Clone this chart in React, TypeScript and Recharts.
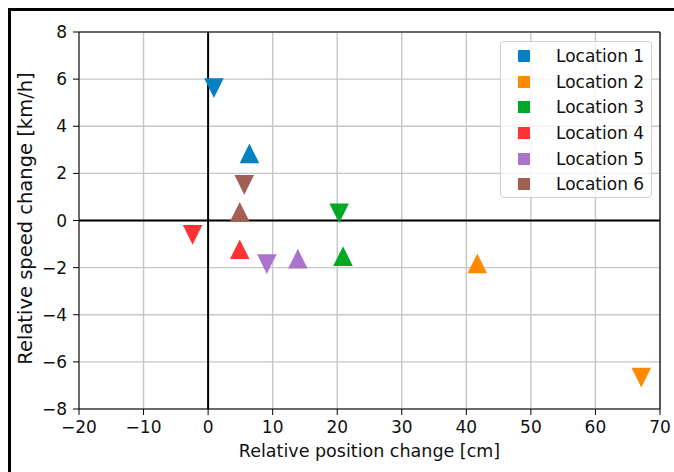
import {
  CartesianGrid,
  Label,
  Legend,
  ReferenceLine,
  Scatter,
  ScatterChart,
  XAxis,
  YAxis,
} from 'recharts';

const LOCATIONS = ['Location 1', 'Location 2', 'Location 3', 'Location 4', 'Location 5', 'Location 6'];
const COLORS = ['#0580c4', '#ff8a00', '#00a826', '#ff3333', '#aa73cc', '#a35f52'];

// ▲ markers
const UP_X = [6.4, 41.7, 20.9, 4.9, 13.9, 4.9];
const UP_Y = [2.85, -1.82, -1.51, -1.22, -1.62, 0.37];
// ▼ markers
const DOWN_X = [0.9, 67.1, 20.3, -2.4, 9.1, 5.6];
const DOWN_Y = [5.62, -6.67, 0.31, -0.61, -1.85, 1.51];

const X_TICKS = [-20, -10, 0, 10, 20, 30, 40, 50, 60, 70];
const Y_TICKS = [-8, -6, -4, -2, 0, 2, 4, 6, 8];

const FONT = '"DejaVu Sans", sans-serif';
const minus = (v: number) => String(v).replace('-', '\u2212');

function Triangle(props: any) {
  const { cx, cy, payload, fill } = props;
  if (cx == null || cy == null) return null;
  const s = 9.8;
  const pts =
    payload.dir === 'up'
      ? `${cx},${cy - s} ${cx - s},${cy + s} ${cx + s},${cy + s}`
      : `${cx},${cy + s} ${cx - s},${cy - s} ${cx + s},${cy - s}`;
  return <polygon points={pts} fill={fill} />;
}

function LegendBox() {
  return (
    <div
      style={{
        width: 150,
        height: 155,
        border: '1px solid #d0d0d0',
        borderRadius: 4,
        background: 'rgba(255,255,255,0.8)',
        fontFamily: FONT,
        fontSize: 17,
        color: '#111',
        position: 'relative',
      }}
    >
      {LOCATIONS.map((name, i) => (
        <div
          key={name}
          style={{ position: 'absolute', left: 0, top: 1 + i * 25.7, height: 25.7, display: 'flex', alignItems: 'center' }}
        >
          <span style={{ display: 'inline-block', width: 12, height: 12, background: COLORS[i], marginLeft: 17, marginRight: 26 }} />
          <span>{name}</span>
        </div>
      ))}
    </div>
  );
}

export default function App() {
  return (
    <div style={{ position: 'fixed', left: 0, top: 0, width: 674, height: 472, overflow: 'hidden', background: '#fff' }}>
      <div
        style={{
          position: 'absolute',
          left: 8,
          top: 8,
          width: 700,
          height: 500,
          borderLeft: '3px solid #000',
          borderTop: '3px solid #000',
        }}
      />
      <ScatterChart width={674} height={472} margin={{ top: 32, right: 14, bottom: 33, left: 20 }}>
        <CartesianGrid stroke="#c6c6c6" strokeWidth={1.4} />
        <XAxis
          type="number"
          dataKey="x"
          domain={[-20, 70]}
          ticks={X_TICKS}
          tickFormatter={minus}
          height={30}
          tickSize={6}
          tickMargin={6}
          stroke="#000"
          tick={{ fill: '#111', fontSize: 17, fontFamily: FONT }}
        >
          <Label
            value="Relative position change [cm]"
            position="bottom"
            offset={6}
            style={{ fill: '#111', fontSize: 17.5, fontFamily: FONT }}
          />
        </XAxis>
        <YAxis
          type="number"
          dataKey="y"
          domain={[-8, 8]}
          ticks={Y_TICKS}
          tickFormatter={minus}
          width={59}
          tickSize={6}
          tickMargin={6}
          stroke="#000"
          tick={{ fill: '#111', fontSize: 17, fontFamily: FONT }}
        >
          <Label
            content={({ viewBox }: any) => {
              const cy = viewBox.y + viewBox.height / 2 - 2;
              return (
                <text
                  x={25}
                  y={cy}
                  transform={`rotate(-90, 25, ${cy})`}
                  textAnchor="middle"
                  dominantBaseline="central"
                  style={{ fill: '#111', fontSize: 19.5, fontFamily: FONT }}
                >
                  Relative speed change [km/h]
                </text>
              );
            }}
          />
        </YAxis>
        <ReferenceLine y={8} stroke="#000" strokeWidth={1.2} />
        <ReferenceLine x={70} stroke="#000" strokeWidth={1.2} />
        <ReferenceLine y={0} stroke="#000" strokeWidth={2} />
        <ReferenceLine x={0} stroke="#000" strokeWidth={2} />
        {LOCATIONS.map((name, i) => (
          <Scatter
            key={name}
            name={name}
            data={[
              { x: DOWN_X[i], y: DOWN_Y[i], dir: 'down' },
              { x: UP_X[i], y: UP_Y[i], dir: 'up' },
            ]}
            fill={COLORS[i]}
            shape={Triangle}
            isAnimationActive={false}
          />
        ))}
        <Legend
          layout="vertical"
          align="center"
          verticalAlign="middle"
          content={() => <LegendBox />}
          wrapperStyle={{ position: 'absolute', left: 500, top: 41, width: 152, height: 157 }}
        />
      </ScatterChart>
    </div>
  );
}
